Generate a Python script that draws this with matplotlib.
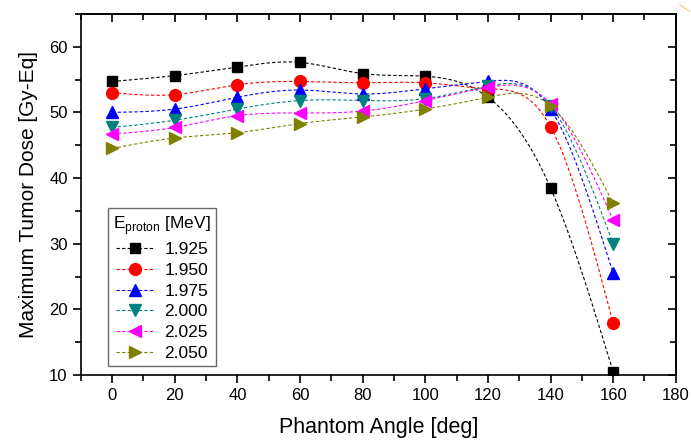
import matplotlib
matplotlib.use("Agg")
import matplotlib.pyplot as plt
import numpy as np
from matplotlib.lines import Line2D
from matplotlib.ticker import MultipleLocator

plt.rcParams['font.family'] = ['Liberation Sans', 'DejaVu Sans']

angle = [0, 20, 40, 60, 80, 100, 120, 140, 160]
energies = ['1.925', '1.950', '1.975', '2.000', '2.025', '2.050']
dose_1925 = [54.7, 55.6, 56.9, 57.6, 55.9, 55.5, 52.3, 38.5, 10.5]
dose_1950 = [53.0, 52.7, 54.2, 54.7, 54.5, 54.5, 53.6, 47.8, 17.9]
dose_1975 = [50.0, 50.5, 52.3, 53.4, 52.8, 53.6, 54.7, 50.5, 25.5]
dose_2000 = [47.7, 48.8, 50.5, 51.8, 51.8, 52.1, 54.0, 51.0, 30.0]
dose_2025 = [46.7, 47.7, 49.5, 49.9, 50.2, 51.8, 53.8, 51.3, 33.6]
dose_2050 = [44.5, 46.1, 46.9, 48.3, 49.3, 50.5, 52.3, 51.0, 36.2]

doses = [dose_1925, dose_1950, dose_1975, dose_2000, dose_2025, dose_2050]
colors = ['black', 'red', 'blue', '#008080', 'magenta', '#808000']
markers = ['s', 'o', '^', 'v', '<', '>']
msizes = [7.5, 8.5, 8.5, 8.5, 8.5, 8.5]


def natural_spline(x, y, xs):
    # natural cubic spline through (x, y), evaluated at xs
    x = np.asarray(x, float)
    y = np.asarray(y, float)
    n = len(x)
    h = np.diff(x)
    A = np.zeros((n, n))
    b = np.zeros(n)
    A[0, 0] = A[-1, -1] = 1
    for i in range(1, n - 1):
        A[i, i - 1] = h[i - 1]
        A[i, i] = 2 * (h[i - 1] + h[i])
        A[i, i + 1] = h[i]
        b[i] = 3 * ((y[i + 1] - y[i]) / h[i] - (y[i] - y[i - 1]) / h[i - 1])
    c = np.linalg.solve(A, b)
    bb = (y[1:] - y[:-1]) / h - h * (2 * c[:-1] + c[1:]) / 3
    d = (c[1:] - c[:-1]) / (3 * h)
    idx = np.clip(np.searchsorted(x, xs) - 1, 0, n - 2)
    t = xs - x[idx]
    return y[idx] + bb[idx] * t + c[idx] * t ** 2 + d[idx] * t ** 3


fig = plt.figure(figsize=(6.91, 4.46), dpi=100)
ax = fig.add_axes([0.117, 0.159, 0.861, 0.81])

xs = np.linspace(angle[0], angle[-1], 400)
for e, d, c, m, s in zip(energies, doses, colors, markers, msizes):
    ax.plot(xs, natural_spline(angle, d, xs), '--', color=c, lw=0.8,
            dashes=(3, 2))
    ax.plot(angle, d, linestyle='none', marker=m, color=c, ms=s)
    ax.plot([], [], '--', color=c, lw=0.8, dashes=(3, 2), marker=m, ms=s,
            label=e)

ax.set_xlim(-10, 180)
ax.set_ylim(10, 65)
ax.xaxis.set_major_locator(MultipleLocator(20))
ax.xaxis.set_minor_locator(MultipleLocator(10))
ax.yaxis.set_major_locator(MultipleLocator(10))
ax.yaxis.set_minor_locator(MultipleLocator(5))
ax.tick_params(which='both', direction='out', top=False, right=False,
               labelsize=12)
ax.tick_params(which='major', length=6, width=1.2)
ax.tick_params(which='minor', length=4, width=1.2)
# inward ticks on the top and right edges
sec_x = ax.secondary_xaxis('top')
sec_x.xaxis.set_major_locator(MultipleLocator(20))
sec_x.xaxis.set_minor_locator(MultipleLocator(10))
sec_x.tick_params(which='both', direction='in', labeltop=False)
sec_x.tick_params(which='major', length=6, width=1.2)
sec_x.tick_params(which='minor', length=4, width=1.2)
sec_y = ax.secondary_yaxis('right')
sec_y.yaxis.set_major_locator(MultipleLocator(10))
sec_y.yaxis.set_minor_locator(MultipleLocator(5))
sec_y.tick_params(which='both', direction='in', labelright=False)
sec_y.tick_params(which='major', length=6, width=1.2)
sec_y.tick_params(which='minor', length=4, width=1.2)
for sp in ax.spines.values():
    sp.set_linewidth(1.2)
sec_x.spines['top'].set_linewidth(1.2)
sec_y.spines['right'].set_linewidth(1.2)

ax.set_xlabel('Phantom Angle [deg]', fontsize=15.5, labelpad=10)
ax.set_ylabel('Maximum Tumor Dose [Gy-Eq]', fontsize=15, labelpad=8)

leg = ax.legend(title=r'E$_{\mathregular{proton}}$ [MeV]', loc='lower left',
                bbox_to_anchor=(0.045, 0.025), borderaxespad=0,
                fontsize=12.5, title_fontsize=12.5,
                frameon=True, fancybox=False, edgecolor='#444444',
                handlelength=2.3, borderpad=0.3, labelspacing=0.32,
                handletextpad=0.5)
leg.get_frame().set_linewidth(1.0)

# small orange stroke in the top right corner
fig.add_artist(Line2D([0.983, 0.998], [0.99, 0.975], color='#f5c77a',
                      lw=0.8, transform=fig.transFigure))

fig.savefig('out.png', dpi=100)
